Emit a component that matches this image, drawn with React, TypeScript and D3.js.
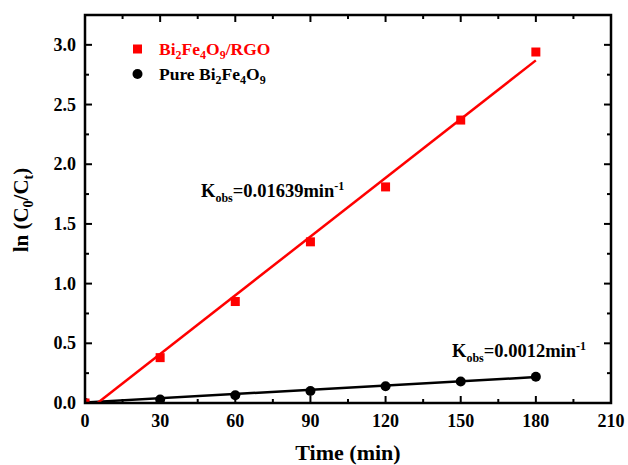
import React, { useEffect, useRef } from 'react'
import * as d3 from 'd3'

const times = [0, 30, 60, 90, 120, 150, 180]
const rgoValues = [0, 0.38, 0.85, 1.35, 1.81, 2.37, 2.94]
const pureValues = [0, 0.03, 0.065, 0.1, 0.14, 0.18, 0.22]
const rgoFit: [number, number][] = [[5, 0], [180, 2.87]]
const pureFit: [number, number][] = [[0, 0.005], [180, 0.217]]
const xTicks = [0, 30, 60, 90, 120, 150, 180, 210]
const yTicks = [0, 0.5, 1, 1.5, 2, 2.5, 3]

export default function App() {
  const svgRef = useRef<SVGSVGElement>(null)

  useEffect(() => {
    document.body.style.margin = '0'
    const svg = d3.select(svgRef.current)
    svg.selectAll('*').remove()

    const left = 85
    const right = 611
    const top = 15
    const bottom = 403
    const font = '"Liberation Serif", "Times New Roman", serif'

    const x = d3.scaleLinear().domain([0, 210]).range([left, right])
    const y = d3.scaleLinear().domain([0, 3.25]).range([bottom, top])

    svg.append('defs').append('clipPath').attr('id', 'plot-clip')
      .append('rect')
      .attr('x', left).attr('y', top)
      .attr('width', right - left).attr('height', bottom - top)

    const plot = svg.append('g').attr('clip-path', 'url(#plot-clip)')
    const line = d3.line<[number, number]>().x(d => x(d[0])).y(d => y(d[1]))

    // fitted lines
    plot.append('path').attr('d', line(pureFit))
      .attr('stroke', '#000').attr('stroke-width', 2.5).attr('fill', 'none')
    plot.append('path').attr('d', line(rgoFit))
      .attr('stroke', '#ff0000').attr('stroke-width', 2.5).attr('fill', 'none')

    // points
    plot.selectAll('.pure').data(times).enter().append('circle')
      .attr('cx', d => x(d))
      .attr('cy', (d, i) => y(pureValues[i]))
      .attr('r', 5)
      .attr('fill', '#000')
    plot.selectAll('.rgo').data(times).enter().append('rect')
      .attr('x', d => x(d) - 4.5)
      .attr('y', (d, i) => y(rgoValues[i]) - 4.5)
      .attr('width', 9).attr('height', 9)
      .attr('fill', '#ff0000')

    // ticks (inward) on all four sides
    const ticks = svg.append('g').attr('stroke', '#000').attr('stroke-width', 2)
    d3.range(0, 211, 15).forEach(v => {
      const len = v % 30 === 0 ? 7 : 4
      ticks.append('line').attr('x1', x(v)).attr('x2', x(v)).attr('y1', bottom).attr('y2', bottom - len)
      ticks.append('line').attr('x1', x(v)).attr('x2', x(v)).attr('y1', top).attr('y2', top + len)
    })
    d3.range(0, 13).map(i => i * 0.25).forEach(v => {
      const len = Math.abs(v * 2 - Math.round(v * 2)) < 1e-6 ? 7 : 4
      ticks.append('line').attr('y1', y(v)).attr('y2', y(v)).attr('x1', left).attr('x2', left + len)
      ticks.append('line').attr('y1', y(v)).attr('y2', y(v)).attr('x1', right).attr('x2', right - len)
    })

    // frame
    svg.append('rect')
      .attr('x', left).attr('y', top)
      .attr('width', right - left).attr('height', bottom - top)
      .attr('fill', 'none').attr('stroke', '#000').attr('stroke-width', 2.5)

    // tick labels
    svg.selectAll('.xt').data(xTicks).enter().append('text')
      .attr('x', d => x(d)).attr('y', bottom + 24)
      .attr('text-anchor', 'middle')
      .attr('font-family', font).attr('font-weight', 'bold').attr('font-size', 18)
      .text(d => d)
    svg.selectAll('.yt').data(yTicks).enter().append('text')
      .attr('x', left - 9).attr('y', d => y(d) + 6)
      .attr('text-anchor', 'end')
      .attr('font-family', font).attr('font-weight', 'bold').attr('font-size', 18)
      .text(d => d.toFixed(1))

    // axis titles
    svg.append('text')
      .attr('x', (left + right) / 2).attr('y', 460)
      .attr('text-anchor', 'middle')
      .attr('font-family', font).attr('font-weight', 'bold').attr('font-size', 22)
      .text('Time (min)')

    const yTitle = svg.append('text')
      .attr('transform', `translate(28,210) rotate(-90)`)
      .attr('text-anchor', 'middle')
      .attr('font-family', font).attr('font-weight', 'bold').attr('font-size', 21)
    yTitle.append('tspan').text('ln (C')
    yTitle.append('tspan').attr('font-size', 14).attr('dy', 5).text('0')
    yTitle.append('tspan').attr('dy', -5).text('/C')
    yTitle.append('tspan').attr('font-size', 14).attr('dy', 5).text('t')
    yTitle.append('tspan').attr('dy', -5).text(')')

    // chemical formula with subscripts
    const formula = (sel: any, prefix: string, suffix: string) => {
      sel.append('tspan').text(prefix + 'Bi')
      sel.append('tspan').attr('font-size', 12).attr('dy', 4).text('2')
      sel.append('tspan').attr('dy', -4).text('Fe')
      sel.append('tspan').attr('font-size', 12).attr('dy', 4).text('4')
      sel.append('tspan').attr('dy', -4).text('O')
      sel.append('tspan').attr('font-size', 12).attr('dy', 4).text('9')
      if (suffix) sel.append('tspan').attr('dy', -4).text(suffix)
    }

    // legend
    svg.append('rect').attr('x', 133).attr('y', 44.5).attr('width', 9).attr('height', 9).attr('fill', '#ff0000')
    const l1 = svg.append('text').attr('x', 159).attr('y', 55)
      .attr('font-family', font).attr('font-weight', 'bold').attr('font-size', 17.5).attr('fill', '#ff0000')
    formula(l1, '', '/RGO')
    svg.append('circle').attr('cx', 137.5).attr('cy', 74).attr('r', 5).attr('fill', '#000')
    const l2 = svg.append('text').attr('x', 159).attr('y', 80)
      .attr('font-family', font).attr('font-weight', 'bold').attr('font-size', 17.5).attr('fill', '#000')
    formula(l2, 'Pure ', '')

    // rate constant annotations
    const kobs = (px: number, py: number, value: string) => {
      const t = svg.append('text').attr('x', px).attr('y', py)
        .attr('font-family', font).attr('font-weight', 'bold').attr('font-size', 18.5)
      t.append('tspan').text('K')
      t.append('tspan').attr('font-size', 12).attr('dy', 5).text('obs')
      t.append('tspan').attr('dy', -5).text('=' + value + 'min')
      t.append('tspan').attr('font-size', 12).attr('dy', -7).text('-1')
    }
    kobs(201, 197, '0.01639')
    kobs(452, 357, '0.0012')
  }, [])

  return <svg ref={svgRef} width={628} height={465} style={{ display: 'block', background: '#fff' }} />
}
